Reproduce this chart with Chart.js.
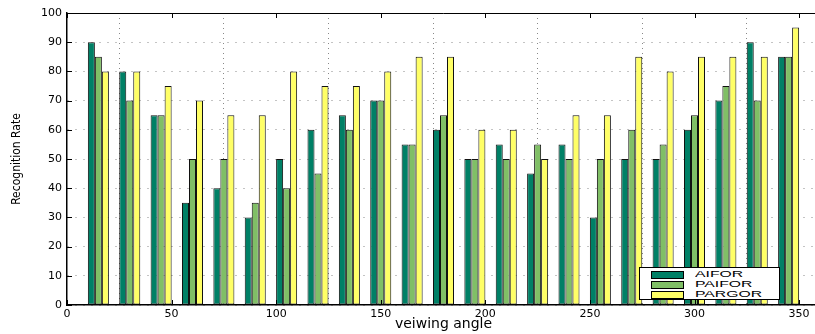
<!DOCTYPE html>
<html>
<head>
<meta charset="utf-8">
<script src="https://cdn.jsdelivr.net/npm/chart.js@4.4.1/dist/chart.umd.min.js"></script>
<style>
html,body{margin:0;padding:0;background:#fff;overflow:hidden;}
#wrap{position:relative;width:815px;height:334px;overflow:hidden;}
#c{position:absolute;left:0;top:0;}
#legend{position:absolute;left:639px;top:267px;width:139px;height:31px;border:1px solid #000;background:#fff;font-family:"Liberation Sans",Arial,sans-serif;font-size:9px;line-height:9px;}
.row{position:absolute;left:0;height:9px;width:100%;}
.sw{position:absolute;left:11px;top:0px;width:31px;height:6px;border:1px solid #000;}
.lt{position:absolute;left:55px;top:-1px;line-height:9px;transform:scaleX(1.75);transform-origin:0 50%;white-space:nowrap;color:#000;}
</style>
</head>
<body>
<div id="wrap">
<canvas id="c" width="820" height="334"></canvas>
<div id="legend"></div>
</div>
<script>
const angles = [15,30,45,60,75,90,105,120,135,150,165,180,195,210,225,240,255,270,285,300,315,330,345];
const aifor  = [90,80,65,35,40,30,50,60,65,70,55,60,50,55,45,55,30,50,50,60,70,90,85];
const paifor = [85,70,65,50,50,35,40,45,60,70,55,65,50,50,55,50,50,60,55,65,75,70,85];
const pargor = [80,80,75,70,65,65,80,75,75,80,85,85,60,60,50,65,65,85,80,85,85,85,95];
const seriesNames = ['AIFOR','PAIFOR','PARGOR'];
const seriesColors = ['rgb(0,128,102)','rgb(128,191,102)','rgb(255,255,102)'];
const xTickValues = [0,50,100,150,200,250,300,350];
const yTickValues = [0,10,20,30,40,50,60,70,80,90,100];

const seriesData = [aifor, paifor, pargor];
const datasets = seriesData.map((vals, i) => ({
  label: seriesNames[i],
  data: angles.map((a, j) => ({x: a, y: vals[j]})),
  backgroundColor: seriesColors[i],
  borderColor: '#111',
  borderWidth: 1,
  borderSkipped: false,
  categoryPercentage: 0.67,
  barPercentage: 1.0
}));

const frame = {
  id: 'frame',
  afterDatasetsDraw(chart) {
    const ctx = chart.ctx;
    const {left, right, top, bottom} = chart.chartArea;
    const xs = chart.scales.x, ys = chart.scales.y;
    ctx.save();
    ctx.strokeStyle = '#000';
    ctx.lineWidth = 1;
    ctx.beginPath();
    ctx.moveTo(left, top + 0.5); ctx.lineTo(right, top + 0.5);
    xTickValues.forEach(v => {
      const p = Math.round(xs.getPixelForValue(v)) + 0.5;
      ctx.moveTo(p, bottom); ctx.lineTo(p, bottom - 5);
      ctx.moveTo(p, top); ctx.lineTo(p, top + 5);
    });
    yTickValues.forEach(v => {
      const p = Math.round(ys.getPixelForValue(v)) + 0.5;
      ctx.moveTo(left, p); ctx.lineTo(left + 5, p);
    });
    ctx.stroke();
    ctx.restore();
  }
};

new Chart(document.getElementById('c'), {
  type: 'bar',
  data: { datasets },
  plugins: [frame],
  options: {
    responsive: false,
    animation: false,
    devicePixelRatio: 1,
    layout: { padding: { top: 13, left: 0, right: 0, bottom: 0 } },
    plugins: { legend: { display: false }, tooltip: { enabled: false } },
    scales: {
      x: {
        type: 'linear',
        min: 0, max: 360,
        offset: false,
        afterFit(s) { s.height = 29; },
        afterBuildTicks(s) { s.ticks = xTickValues.map(v => ({value: v})); },
        ticks: { color: '#000', padding: 3, maxRotation: 0, autoSkip: false,
                 font: { family: 'DejaVu Sans', size: 11 } },
        grid: { color: '#888', drawTicks: false, lineWidth: 1 },
        border: { color: '#000', width: 1.5, dash: [1, 4] },
        title: { display: true, text: 'veiwing angle', color: '#000',
                 font: { family: 'DejaVu Sans', size: 14 }, padding: { top: 0, bottom: 1 } }
      },
      y: {
        min: 0, max: 100,
        afterFit(s) { s.width = 67; },
        afterBuildTicks(s) { s.ticks = yTickValues.map(v => ({value: v})); },
        ticks: { color: '#000', padding: 5,
                 font: { family: 'DejaVu Sans', size: 11 } },
        grid: { color: '#888', drawTicks: false, lineWidth: 1 },
        border: { color: '#000', width: 1.5, dash: [1, 7] },
        title: { display: true, text: 'Recognition Rate', color: '#000',
                 font: { family: '"Liberation Sans Narrow", "DejaVu Sans Condensed", sans-serif', size: 12 },
                 padding: { top: 10, bottom: 0 } }
      }
    }
  }
});

const leg = document.getElementById('legend');
seriesNames.forEach((n, i) => {
  const r = document.createElement('div');
  r.className = 'row';
  r.style.top = (3 + i * 10) + 'px';
  r.innerHTML = '<div class="sw" style="background:' + seriesColors[i] + '"></div><span class="lt">' + n + '</span>';
  leg.appendChild(r);
});
</script>
</body>
</html>
